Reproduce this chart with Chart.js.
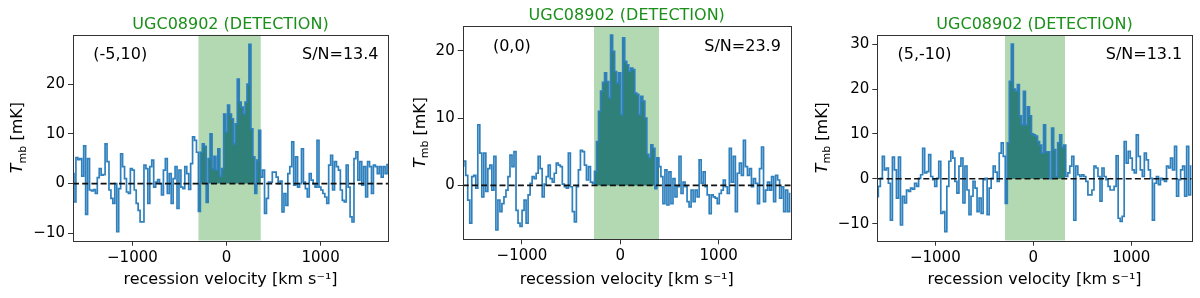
<!DOCTYPE html>
<html>
<head>
<meta charset="utf-8">
<script src="https://cdn.jsdelivr.net/npm/chart.js@4.4.0/dist/chart.umd.min.js"></script>
<style>
  html, body { margin: 0; padding: 0; background: #fff; }
  #wrap { position: relative; width: 1200px; height: 298px; overflow: hidden; }
  .panel { position: absolute; top: 0; width: 400px; height: 298px; }
</style>
</head>
<body>
<div id="wrap">
  <div class="panel" style="left:0px"><canvas id="c0" width="400" height="298"></canvas></div>
  <div class="panel" style="left:400px"><canvas id="c1" width="400" height="298"></canvas></div>
  <div class="panel" style="left:800px"><canvas id="c2" width="400" height="298"></canvas></div>
</div>
<script>
// labels for each pointing
const galaxy = "UGC08902 (DETECTION)";
const offsets = ["(-5,10)", "(0,0)", "(5,-10)"];
const snr = ["S/N=13.4", "S/N=23.9", "S/N=13.1"];

// axis ranges and ticks
const velRange = [[-1631, 1716], [-1603, 1733], [-1592, 1616]];
const tmbRange = [[-11.5, 30], [-8, 23.7], [-13.8, 32.1]];
const velTicks = [-1000, 0, 1000];
const tmbTicks = [[-10, 0, 10, 20], [0, 10, 20], [-10, 0, 10, 20, 30]];

// line window (green band), km/s
const lineWindow = [[-300, 365], [-268, 394], [-289, 324]];

// T_mb [mK] per channel (channels evenly spaced over velRange)
const spectrum1 = [
  2, -3.7, 5.2, 4.8, 5, 1.5, 7.6, -6.2, 5, -1.3, -1.5, -1.2, -2, 1.2, 3, 1.7, 1.8, 8, 4.4, -1.3,
  -3, -4, 0, -9.7, -1, 6, 3.4, 1, -1.7, -2, 3, 2.7, -1.3, -4, -5.4, -7.7, -7.7, 3.7, 3, -4,
  3.4, 4.7, -0.7, 0.3, 0.8, 0, -2.3, 2.7, 5, -2, 2, -4, 1, 3.4, -5, 2.7, -0.7, -1, 3.4, 2,
  -1.2, 4, 9.4, 8.7, 6.3,
  -5.6, 6.3, 8, 7.5, -3.8, 5, 10, 3, 5.5, 2.7, 7, 1.5, 3, 14, 10.4, 15.8, 14, 13, 8, 12,
  21, 16.4, 15.4, 14, 16.4, 20, 28, 11, 5.4, -2, 4.7, 10.7,
  1.3, 2.7, -6, -3, 0.3, 0.3, 2.3, 2.3, 1.3, 0, 0.5, -5.7, -2, -4.4, 2, 3.4, 8.4, -0.3, 5.4, -0.7,
  0, 7, 0.3, -1, -2.7, 2, 0.7, 0, -0.7, 8.7, -0.7, -1.3, -2, -2.7, -4, 3.7, 5.7, -1.3, 4.4, 3.4,
  2.7, -1.3, -3.4, -3.7, 3.7, -0.7, -6.7, -7.7, 5, 6.4, 0.7, 4.4, -0.3, 3.4, -2.7, 4.4, 3.4, -2, 3.7, 3.4,
  2, 3.4, 1.3, 3.4, 2, 3.8
];
const spectrum2 = [
  2.9, 3.6, 1.5, -2.2, -5.6, 1.3, 1.5, -0.4, 9, 4.8, -1.7, 4.8, -0.9, 2.5, 3, -0.7, 4.3, -6.6, -2.2, -3.9,
  -2.7, -1.7, -0.7, 1.3, 4.5, 2.8, 5, -3.7, -5.6, -6.1, -3.7, -2.2, -5.6, -1.4, 0.3, 1.3, 1, 1.8, 4.3, 2.5,
  -1.7, 0.2, 1.3, 3, 1, 0.5, 1.8, 3.3, 3, 2.8, 0.2, -0.2, -0.4, 4.8, -0.2, -3.9, -5.4, -0.2, 2.3, 5.2,
  5, 3, 0.8, 2.8, 0.5, 0.3,
  2.1, 6.5, 11, 14, 15.3, 16.7, 15.4, 13, 22.3, 19.9, 16.9, 15.2, 16.7, 10.5, 21.9, 18.4, 17.9, 16.9, 17.4, 17.2,
  13.7, 13.5, 10.5, 13.2, 12.5, 10, 4.6, 4.1, 6, 5.5, -0.5, 4.1,
  2.8, 1.3, -2.7, 2.3, -2.9, 2, -2.7, 1, -1.7, -0.2, 4.3, -1.2, 0.5, -0.2, -2.4, -3.2, -0.7, -2.4, -0.7, -1.7,
  3.8, 0.3, 2, -0.2, -1.4, -4.2, -1.4, -1.7, -1.9, -2.7, -1.2, -0.7, 0.8, -0.2, -1.2, 5.5, 0.5, 4.3, -3.9, 1.8,
  3.3, 1.5, 6.7, 2.8, 1.5, 2.5, -0.2, 1, 0.3, -2.7, 2.5, 5.7, -2.4, -0.7, 0.5, -0.7, 1.3, -2.4, 1.5, 0.8,
  -1.9, -0.2, -3.9, -0.7, -3.9, -1.2
];
const spectrum3 = [
  -4, -1.7, 0.1, 5, 2, 2.4, -1, -9.2, 4.8, 2, -4.3, 4.8, -10.3, -3.9, -5.4, -2.5, -2.8, -2.1, -2.3, -1,
  -1.7, 0.1, 0.9, 6.8, 1.3, 1.6, 5.4, 0.5, -0.2, -1.7, 0.1, 3.9, -7.7, -7.3, -11.8, -1.7, 3.9, 6.1, 4.6, -0.6,
  -3.2, 2.8, 4.6, -5.4, 2.8, -2.5, -8, -3.9, -0.6, -2.1, -7.3, -4.3, -7.7, -0.2, 0.1, -8, -2.1, 0.1, 2.8, 1.5,
  -0.6, 5.7, 8, 5,
  -5.5, 8, 21.7, 30, 20, 19.5, 21, 14, 12, 19.5, 12, 16, 14, 10, 9.8, 9.5, 8.3, 7.5, 5.7, 12,
  6, 6, 0, 11.3, 6.5, 0.5, 8, 9.8, 7, 7.5,
  0.5, 1.3, 2.8, 5, -9.2, 2.8, 0.9, 0.5, 0.9, 0.5, -0.6, -3.6, -3.6, -2.5, 2.8, 2.4, 0.5, -5, 2.4, 0.5,
  -0.2, -1.7, -2.5, -2.5, -1.7, 5.1, -8.8, -9.5, -8.4, 8.3, 3.5, 6.1, 4.6, 2, 1.3, 9.8, 5, 2, 0.5, 5.7,
  4.2, 2, 0.1, -9.2, -1, 0.5, -1.3, 0.1, -0.2, -0.6, 2.8, 2.4, 4.6, 2, 7.2, -3.9, -0.2, 2, 2.8, -3.9,
  7.2, -3.6, 2.8
];
const spectra = [spectrum1, spectrum2, spectrum3];

// plot box of each panel inside its 400x298 canvas
const frames = [
  { left: 73, top: 34.5, right: 12, bottom: 240.7 },
  { left: 62.7, top: 25.7, right: 9.3, bottom: 239.3 },
  { left: 77.3, top: 34.7, right: 8.3, bottom: 240.7 }
];

const FONT = '"DejaVu Sans", "Liberation Sans", sans-serif';
const fmt = v => (v < 0 ? '\u2212' + Math.abs(v) : String(v));

function makePanel(i) {
  const spec = spectra[i];
  const [v0, v1] = velRange[i];
  const dv = (v1 - v0) / (spec.length - 1);
  const pts = spec.map((t, k) => ({ x: v0 + k * dv, y: t }));
  const [lo, hi] = lineWindow[i];
  const inWin = pts.filter(p => p.x >= lo && p.x <= hi);
  const fillPts = [{ x: lo, y: inWin[0].y }, ...inWin, { x: hi, y: inWin[inWin.length - 1].y }];
  const frame = frames[i];

  const decor = {
    id: 'decor' + i,
    afterDraw(chart) {
      const { ctx, chartArea: a } = chart;
      const w = a.right - a.left, h = a.bottom - a.top;
      ctx.save();
      // frame
      ctx.strokeStyle = '#333';
      ctx.lineWidth = 1;
      ctx.strokeRect(Math.round(a.left) + 0.5, Math.round(a.top) + 0.5,
        Math.round(a.right) - Math.round(a.left), Math.round(a.bottom) - Math.round(a.top));
      // title
      ctx.font = '16px ' + FONT;
      ctx.fillStyle = '#1a8f1a';
      ctx.textAlign = 'center';
      ctx.textBaseline = 'middle';
      ctx.fillText(galaxy, a.left + w / 2, a.top - 9.5);
      // pointing offset and S/N
      ctx.fillStyle = '#000';
      const ty = a.top + 0.1 * h;
      ctx.fillText(offsets[i], a.left + 0.15 * w, ty);
      ctx.textAlign = 'right';
      ctx.fillText(snr[i], a.left + 0.97 * w, ty);
      // y axis title with subscript
      ctx.font = '15px ' + FONT;
      const widest = Math.max(...chart.scales.y.ticks.map(t => ctx.measureText(fmt(t.value)).width));
      const tx = a.left - 8 - widest - 17;
      const parts = [
        { s: 'T', f: 'italic 16px ' + FONT, dy: 0 },
        { s: 'mb', f: '11px ' + FONT, dy: 3.5 },
        { s: ' [mK]', f: '16px ' + FONT, dy: 0 }
      ];
      let total = 0;
      parts.forEach(p => { ctx.font = p.f; p.w = ctx.measureText(p.s).width; total += p.w; });
      ctx.translate(tx, a.top + h / 2);
      ctx.rotate(-Math.PI / 2);
      ctx.textAlign = 'left';
      ctx.textBaseline = 'alphabetic';
      let x = -total / 2;
      parts.forEach(p => { ctx.font = p.f; ctx.fillText(p.s, x, 6 + p.dy); x += p.w; });
      ctx.restore();
    }
  };

  new Chart(document.getElementById('c' + i), {
    type: 'line',
    data: {
      datasets: [
        { data: [{ x: v0, y: 0 }, { x: v1, y: 0 }], borderColor: '#111', borderWidth: 1.7,
          borderDash: [6, 3.2], pointRadius: 0, fill: false, order: 0 },
        { data: pts, stepped: 'middle', borderColor: '#2f80bd', borderWidth: 1.7,
          pointRadius: 0, fill: false, order: 1 },
        { data: fillPts, stepped: 'middle', borderColor: 'rgba(0,0,0,0)', borderWidth: 0,
          backgroundColor: 'rgb(46,128,120)', fill: 'origin', pointRadius: 0, order: 2 },
        { data: [{ x: lo, y: tmbRange[i][1] }, { x: hi, y: tmbRange[i][1] }],
          borderColor: 'rgba(0,0,0,0)', borderWidth: 0, backgroundColor: 'rgba(0,128,0,0.3)',
          fill: 'start', pointRadius: 0, order: 3 }
      ]
    },
    options: {
      responsive: false,
      animation: false,
      devicePixelRatio: 1,
      layout: { padding: { left: 0, top: frame.top, right: frame.right, bottom: 9 } },
      plugins: { legend: { display: false }, tooltip: { enabled: false } },
      scales: {
        x: {
          type: 'linear', min: v0, max: v1,
          afterBuildTicks: s => { s.ticks = velTicks.map(v => ({ value: v })); },
          afterFit: s => { s.height = 289 - frame.bottom; },
          ticks: { font: { family: FONT, size: 15 }, color: '#000', padding: 3,
                   maxRotation: 0, autoSkip: false, callback: v => fmt(v) },
          grid: { drawOnChartArea: false, drawTicks: true, tickLength: 5, tickColor: '#333', tickWidth: 1 },
          border: { display: false },
          title: { display: true, text: 'recession velocity [km s\u207B\u00B9]',
                   font: { family: FONT, size: 16 }, color: '#000', padding: 0 }
        },
        y: {
          type: 'linear', min: tmbRange[i][0], max: tmbRange[i][1],
          afterBuildTicks: s => { s.ticks = tmbTicks[i].map(v => ({ value: v })); },
          afterFit: s => { s.width = frame.left; },
          ticks: { font: { family: FONT, size: 15 }, color: '#000', padding: 3,
                   autoSkip: false, callback: v => fmt(v) },
          grid: { drawOnChartArea: false, drawTicks: true, tickLength: 5, tickColor: '#333', tickWidth: 1 },
          border: { display: false }
        }
      }
    },
    plugins: [decor]
  });
}

[0, 1, 2].forEach(makePanel);
</script>
</body>
</html>
